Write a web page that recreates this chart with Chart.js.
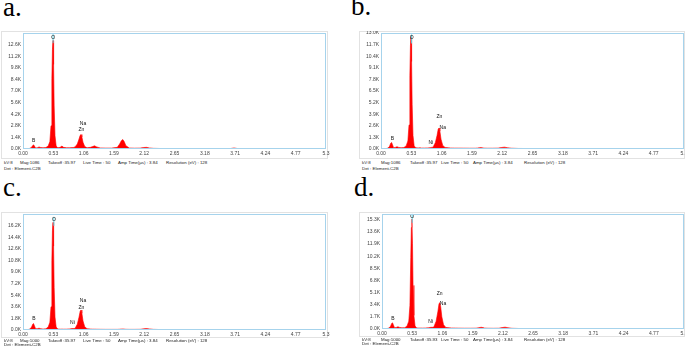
<!DOCTYPE html>
<html>
<head>
<meta charset="utf-8">
<script src="https://cdn.jsdelivr.net/npm/chart.js@4.4.0/dist/chart.umd.min.js"></script>
<style>
  body { margin: 0; background: #fff; width: 685px; height: 350px; overflow: hidden; position: relative;
         font-family: Arial, "Liberation Sans", sans-serif; }
  .tag { position: absolute; font-family: "Liberation Serif", "Times New Roman", serif; font-size: 27px; line-height: 1; color: #000; }
  .frame { position: absolute; border: 1px solid #e2e2e2; box-sizing: border-box; }
  canvas { position: absolute; }
  .foot { position: absolute; font-size: 4.4px; color: #222; white-space: nowrap; line-height: 1; width: 300px; height: 12px; }
  .foot span { position: absolute; }
</style>
</head>
<body>

<div class="tag" style="left:3px;top:-6px">a.</div>
<div class="tag" style="left:351px;top:-7px">b.</div>
<div class="tag" style="left:3px;top:174px">c.</div>
<div class="tag" style="left:354px;top:174px">d.</div>

<div class="frame" style="left:1px;top:31px;width:327px;height:128px"></div>
<div class="frame" style="left:359px;top:31px;width:326px;height:128px"></div>
<div class="frame" style="left:1px;top:212px;width:327px;height:126px"></div>
<div class="frame" style="left:359px;top:212px;width:326px;height:125px"></div>

<canvas id="chartA" width="329" height="128" style="left:1px;top:31px"></canvas>
<canvas id="chartB" width="326" height="128" style="left:359px;top:31px"></canvas>
<canvas id="chartC" width="329" height="128" style="left:1px;top:212px"></canvas>
<canvas id="chartD" width="325" height="127" style="left:360px;top:212px"></canvas>

<div class="foot" style="left:4px;top:160.5px">
  <span style="left:0">kV:8</span><span style="left:16px">Mag:1086</span><span style="left:44px">Takeoff :35.97</span>
  <span style="left:79px">Live Time : 50</span><span style="left:114px">Amp Time(µs) : 3.84</span><span style="left:162px">Resolution (eV) : 128</span>
  <span style="left:0;top:6px">Det : Element-C2B</span>
</div>
<div class="foot" style="left:362px;top:160.5px">
  <span style="left:0">kV:8</span><span style="left:19px">Mag:1086</span><span style="left:48px">Takeoff :35.97</span>
  <span style="left:79px">Live Time : 50</span><span style="left:111px">Amp Time(µs) : 3.84</span><span style="left:162px">Resolution (eV) : 128</span>
  <span style="left:0;top:6px">Det : Element-C2B</span>
</div>
<div class="foot" style="left:4px;top:338.5px">
  <span style="left:0">kV:8</span><span style="left:16px">Mag:1000</span><span style="left:44px">Takeoff :35.97</span>
  <span style="left:79px">Live Time : 50</span><span style="left:114px">Amp Time(µs) : 3.84</span><span style="left:162px">Resolution (eV) : 128</span>
  <span style="left:0;top:4.5px">Det : Element-C2B</span>
</div>
<div class="foot" style="left:362px;top:337.5px">
  <span style="left:0">kV:8</span><span style="left:19px">Mag:1000</span><span style="left:48px">Takeoff :35.93</span>
  <span style="left:79px">Live Time : 50</span><span style="left:111px">Amp Time(µs) : 3.84</span><span style="left:162px">Resolution (eV) : 128</span>
  <span style="left:0;top:4.5px">Det : Element-C2B</span>
</div>

<script>
// energy axis (keV), shared by all four spectra
const energies = [
  0.00, 0.08, 0.12, 0.15, 0.17, 0.185, 0.20, 0.22, 0.25, 0.28,
  0.31, 0.35, 0.40, 0.44, 0.47, 0.49, 0.505, 0.515, 0.525, 0.535,
  0.545, 0.56, 0.58, 0.61, 0.65, 0.68, 0.71, 0.76, 0.82, 0.86,
  0.88, 0.91, 0.95, 0.98, 1.00, 1.015, 1.03, 1.05, 1.08, 1.12,
  1.18, 1.22, 1.25, 1.29, 1.35, 1.45, 1.55, 1.65, 1.69, 1.72,
  1.745, 1.77, 1.80, 1.86, 1.95, 2.05, 2.11, 2.16, 2.21, 2.28,
  2.40, 2.60, 2.90, 3.30, 3.62, 3.69, 3.76, 3.90, 4.30, 4.80,
  5.30
];

// counts per channel
const countsA = [
  0, 30, 80, 200, 420, 500, 350, 120, 150, 250,
  180, 150, 180, 350, 900, 2800, 8500, 12000, 13100, 10200,
  5200, 1600, 350, 150, 200, 350, 200, 150, 150, 170,
  180, 250, 600, 1200, 1650, 1750, 1450, 800, 300, 150,
  200, 300, 380, 250, 130, 110, 110, 200, 600, 1000,
  1150, 900, 400, 120, 100, 110, 180, 200, 130, 80,
  60, 50, 40, 35, 40, 130, 40, 30, 25, 20,
  15
];
const countsB = [
  0, 30, 100, 300, 650, 740, 500, 150, 180, 260,
  180, 140, 160, 350, 900, 2700, 8200, 11600, 12600, 9800,
  5000, 1500, 350, 130, 120, 130, 110, 110, 120, 150,
  180, 200, 700, 1500, 2200, 2350, 2000, 1100, 400, 180,
  130, 110, 110, 100, 100, 95, 90, 90, 110, 150,
  160, 130, 100, 90, 90, 100, 170, 210, 150, 90,
  60, 50, 40, 35, 30, 30, 30, 25, 20, 15,
  10
];
const countsC = [
  0, 40, 150, 450, 900, 1000, 650, 200, 200, 280,
  200, 150, 180, 450, 1200, 3600, 10800, 15400, 16700, 13000,
  6600, 2000, 450, 150, 130, 140, 130, 130, 170, 230,
  220, 250, 900, 2000, 2900, 3100, 2600, 1400, 500, 200,
  150, 130, 130, 120, 110, 100, 100, 100, 120, 150,
  160, 140, 110, 100, 100, 110, 180, 230, 170, 100,
  70, 50, 40, 35, 30, 30, 30, 25, 20, 15,
  10
];
const countsD = [
  0, 40, 130, 380, 780, 860, 560, 180, 220, 320,
  220, 160, 190, 420, 1100, 3300, 10000, 14200, 15400, 12000,
  6100, 1900, 420, 150, 130, 140, 130, 140, 180, 240,
  230, 280, 1100, 2400, 3500, 3700, 3100, 1700, 600, 220,
  160, 140, 140, 130, 120, 110, 110, 120, 170, 220,
  240, 200, 130, 110, 100, 110, 200, 260, 180, 100,
  70, 50, 40, 35, 30, 30, 30, 25, 20, 15,
  10
];

const xTicks = [0, 0.53, 1.06, 1.59, 2.12, 2.65, 3.18, 3.71, 4.24, 4.77, 5.3];
const xTickLabels = ['0.00', '0.53', '1.06', '1.59', '2.12', '2.65', '3.18', '3.71', '4.24', '4.77', '5.3'];

const yTicksA = [0, 1400, 2800, 4200, 5600, 7000, 8400, 9800, 11200, 12600];
const yTicksB = [0, 1300, 2600, 3900, 5200, 6500, 7800, 9100, 10400, 11700, 13000];
const yTicksC = [0, 1800, 3600, 5400, 7200, 9000, 10800, 12600, 14400, 16200];
const yTicksD = [0, 1700, 3400, 5100, 6800, 8500, 10200, 11900, 13600, 15300];

// element markers: name, energy, count where the name sits
const elemA = ['O', 'Na', 'Zn', 'B'];
const elemAx = [0.526, 1.05, 1.02, 0.186];
const elemAy = [13500, 3100, 2300, 1000];
const elemB = ['O', 'Zn', 'Na', 'B', 'Ni'];
const elemBx = [0.535, 1.02, 1.08, 0.20, 0.87];
const elemBy = [12500, 3600, 2450, 1200, 740];
const elemC = ['O', 'Na', 'Zn', 'B', 'Ni'];
const elemCx = [0.54, 1.05, 1.02, 0.19, 0.865];
const elemCy = [17100, 4600, 3400, 1700, 1100];
const elemD = ['O', 'Zn', 'Na', 'B', 'Ni'];
const elemDx = [0.53, 1.01, 1.07, 0.19, 0.855];
const elemDy = [15700, 5000, 3550, 1500, 1000];

const boxPlugin = {
  id: 'box',
  afterDraw(chart) {
    const a = chart.chartArea, ctx = chart.ctx;
    ctx.save();
    ctx.strokeStyle = '#a6d3ec';
    ctx.lineWidth = 1;
    ctx.strokeRect(Math.round(a.left) + 0.5, Math.round(a.top) + 0.5,
                   Math.round(a.right - a.left) - 1, Math.round(a.bottom - a.top) - 1);
    ctx.restore();
  }
};

const elemPlugin = {
  id: 'elements',
  afterDatasetsDraw(chart, args, opts) {
    const ctx = chart.ctx, xs = chart.scales.x, ys = chart.scales.y;
    ctx.save();
    ctx.font = '5px Arial, "Liberation Sans", sans-serif';
    ctx.textAlign = 'center';
    ctx.textBaseline = 'middle';
    opts.names.forEach((name, i) => {
      const px = xs.getPixelForValue(opts.xs[i]);
      const py = ys.getPixelForValue(opts.ys[i]);
      if (name === 'O') {
        // cyan peak marker above the O peak
        ctx.strokeStyle = '#5cc8dc';
        ctx.lineWidth = 1;
        ctx.beginPath();
        ctx.moveTo(px, py - 3);
        ctx.lineTo(px, py + 6);
        ctx.stroke();
      }
      ctx.fillStyle = '#111';
      ctx.fillText(name, px, py);
    });
    ctx.restore();
  }
};

function fmtK(v) {
  return (v / 1000).toFixed(1) + 'K';
}

function drawSpectrum(id, counts, yTicks, yMax, names, ex, ey, padRight) {
  const ctx = document.getElementById(id).getContext('2d');
  new Chart(ctx, {
    type: 'line',
    data: {
      datasets: [{
        data: energies.map((e, i) => ({ x: e, y: counts[i] })),
        borderColor: '#ff0000',
        backgroundColor: '#ff0000',
        borderWidth: 0.6,
        fill: 'origin',
        pointRadius: 0,
        tension: 0
      }]
    },
    options: {
      responsive: false,
      animation: false,
      events: [],
      layout: { padding: { top: 2, right: padRight, left: 0, bottom: 0 } },
      plugins: {
        legend: { display: false },
        tooltip: { enabled: false },
        elements: { names, xs: ex, ys: ey }
      },
      scales: {
        x: {
          type: 'linear', min: 0, max: 5.3,
          grid: { display: false, drawTicks: false },
          border: { display: false },
          afterBuildTicks: s => { s.ticks = xTicks.map(v => ({ value: v })); },
          afterFit: s => { s.height = 10; s.paddingLeft = 0; s.paddingRight = 0; },
          ticks: {
            autoSkip: false, maxRotation: 0, padding: 2,
            color: '#444', font: { size: 5, family: 'Arial, "Liberation Sans", sans-serif' },
            callback: (v, i) => xTickLabels[i]
          }
        },
        y: {
          min: 0, max: yMax,
          grid: { display: false, drawTicks: false },
          border: { display: false },
          afterBuildTicks: s => { s.ticks = yTicks.map(v => ({ value: v })); },
          afterFit: s => { s.width = 22; s.paddingTop = 0; s.paddingBottom = 0; },
          ticks: {
            autoSkip: false, padding: 2,
            color: '#444', font: { size: 5, family: 'Arial, "Liberation Sans", sans-serif' },
            callback: v => fmtK(v)
          }
        }
      }
    },
    plugins: [boxPlugin, elemPlugin]
  });
}

drawSpectrum('chartA', countsA, yTicksA, 14000, elemA, elemAx, elemAy, 4);
drawSpectrum('chartB', countsB, yTicksB, 13000, elemB, elemBx, elemBy, 1);
drawSpectrum('chartC', countsC, yTicksC, 18000, elemC, elemCx, elemCy, 4);
drawSpectrum('chartD', countsD, yTicksD, 16100, elemD, elemDx, elemDy, 1);
</script>
</body>
</html>
